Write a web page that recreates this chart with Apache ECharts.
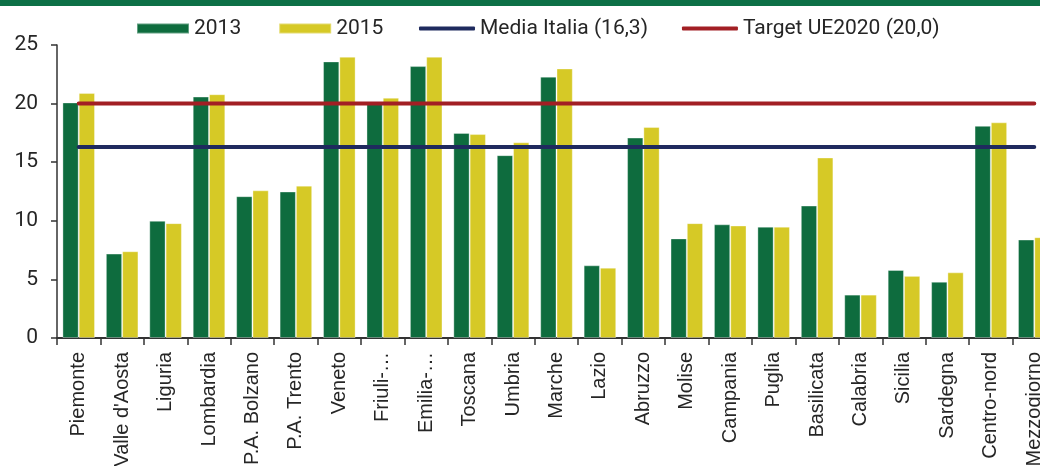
<!DOCTYPE html>
<html>
<head>
<meta charset="utf-8">
<script src="https://cdn.jsdelivr.net/npm/echarts@6/dist/echarts.min.js"></script>
<style>
  html, body { margin: 0; padding: 0; background: #fff; }
  #chart { width: 1040px; height: 466px; }
</style>
</head>
<body>
<div id="chart"></div>
<script>
// regioni / ripartizioni
const categories = [
  'Piemonte', "Valle d'Aosta", 'Liguria', 'Lombardia', 'P.A. Bolzano', 'P.A. Trento',
  'Veneto', 'Friuli-…', 'Emilia-…', 'Toscana', 'Umbria', 'Marche', 'Lazio', 'Abruzzo',
  'Molise', 'Campania', 'Puglia', 'Basilicata', 'Calabria', 'Sicilia', 'Sardegna',
  'Centro-nord', 'Mezzogiorno'
];

const values2013 = [20.1, 7.2, 10.0, 20.6, 12.1, 12.5, 23.6, 20.0, 23.2, 17.5, 15.6, 22.3,
  6.2, 17.1, 8.5, 9.7, 9.5, 11.3, 3.7, 5.8, 4.8, 18.1, 8.4];
const values2015 = [20.9, 7.4, 9.8, 20.8, 12.6, 13.0, 24.0, 20.5, 24.0, 17.4, 16.7, 23.0,
  6.0, 18.0, 9.8, 9.6, 9.5, 15.4, 3.7, 5.3, 5.6, 18.4, 8.6];

const mediaItalia = 16.3;
const targetUE = 20.0;

const yTicks = [0, 5, 10, 15, 20, 25];

const colors = {
  green: '#0e6c3e',
  yellow: '#d6c926',
  navy: '#1f2a5e',
  red: '#a21f24',
  axis: '#333333',
  text: '#262626',
  strip: '#0d7046',
};

const chart = echarts.init(document.getElementById('chart'), null, { renderer: 'canvas' });

chart.setOption({
  animation: false,
  graphic: [
    { type: 'rect', left: 0, top: 0, shape: { width: 1040, height: 6 }, style: { fill: colors.strip } },
  ],
  legend: [
    {
      data: ['2013', '2015'],
      left: 136,
      top: 18,
      padding: 0,
      icon: 'rect',
      itemWidth: 52,
      itemHeight: 10,
      itemGap: 37,
      textStyle: { fontFamily: 'Roboto', fontSize: 21, color: colors.text },
    },
    {
      data: ['Media Italia (16,3)', 'Target UE2020 (20,0)'],
      left: 419,
      top: 18,
      padding: 0,
      icon: 'roundRect',
      itemWidth: 56,
      itemHeight: 4,
      itemGap: 34,
      textStyle: { fontFamily: 'Roboto', fontSize: 21, color: colors.text },
    },
  ],
  grid: { left: 57, width: 999, top: 45, bottom: 128, containLabel: false, outerBoundsMode: 'none' },
  xAxis: {
    type: 'category',
    data: categories,
    axisLine: { lineStyle: { color: colors.axis, width: 2 } },
    axisTick: { show: true, length: 7, lineStyle: { color: colors.axis, width: 1.5 } },
    axisLabel: {
      rotate: 90,
      interval: 0,
      margin: 14,
      color: colors.text,
      fontFamily: 'Liberation Sans',
      fontSize: 20,
    },
  },
  yAxis: {
    type: 'value',
    min: yTicks[0],
    max: yTicks[yTicks.length - 1],
    interval: 5,
    axisLine: { show: true, lineStyle: { color: colors.axis, width: 1.5 } },
    axisTick: { show: true, length: 6, lineStyle: { color: colors.axis, width: 1.5 } },
    axisLabel: { margin: 19, color: colors.text, fontFamily: 'Roboto', fontSize: 21 },
    splitLine: { show: false },
  },
  series: [
    {
      name: '2013',
      type: 'bar',
      data: values2013,
      barGap: '0%',
      barCategoryGap: '25%',
      itemStyle: { color: colors.green, borderColor: 'rgba(255,255,255,0.35)', borderWidth: 1 },
    },
    {
      name: '2015',
      type: 'bar',
      data: values2015,
      itemStyle: { color: colors.yellow, borderColor: 'rgba(255,255,255,0.35)', borderWidth: 1 },
    },
    {
      name: 'Media Italia (16,3)',
      type: 'line',
      data: categories.map(() => mediaItalia),
      symbol: 'none',
      z: 5,
      lineStyle: { color: colors.navy, width: 4, cap: 'round' },
      itemStyle: { color: colors.navy },
    },
    {
      name: 'Target UE2020 (20,0)',
      type: 'line',
      data: categories.map(() => targetUE),
      symbol: 'none',
      z: 5,
      lineStyle: { color: colors.red, width: 4, cap: 'round' },
      itemStyle: { color: colors.red },
    },
  ],
});
</script>
</body>
</html>
